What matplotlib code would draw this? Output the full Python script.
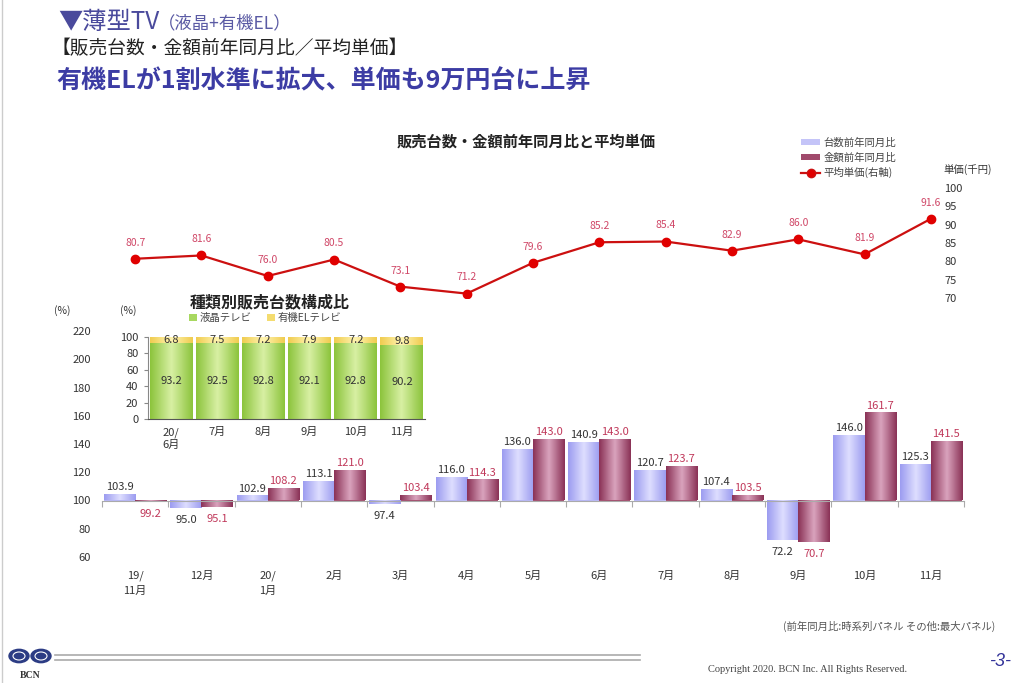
import numpy as np
import matplotlib
matplotlib.use("Agg")
import matplotlib.pyplot as plt
from matplotlib.colors import LinearSegmentedColormap
from matplotlib.patches import Circle, Patch
from matplotlib.lines import Line2D
import matplotlib.transforms as mtransforms

plt.rcParams['font.family'] = ['Noto Sans CJK JP', 'DejaVu Sans']

# --- data ---
months = ["19/\n11月", "12月", "20/\n1月", "2月", "3月", "4月", "5月",
          "6月", "7月", "8月", "9月", "10月", "11月"]
units_yoy = [103.9, 95.0, 102.9, 113.1, 97.4, 116.0, 136.0, 140.9, 120.7, 107.4, 72.2, 146.0, 125.3]
amount_yoy = [99.2, 95.1, 108.2, 121.0, 103.4, 114.3, 143.0, 143.0, 123.7, 103.5, 70.7, 161.7, 141.5]
avg_price = [80.7, 81.6, 76.0, 80.5, 73.1, 71.2, 79.6, 85.2, 85.4, 82.9, 86.0, 81.9, 91.6]

inset_months = ["20/\n6月", "7月", "8月", "9月", "10月", "11月"]
lcd_share = [93.2, 92.5, 92.8, 92.1, 92.8, 90.2]
oled_share = [6.8, 7.5, 7.2, 7.9, 7.2, 9.8]

W, H = 1024, 683
fig = plt.figure(figsize=(W / 100, H / 100), dpi=100)


def fx(px):
    return px / W


def fy(py):
    return 1 - py / H


def gradient(ax, bars, edge, mid):
    cmap = LinearSegmentedColormap.from_list("g", [edge, mid, edge])
    grad = np.linspace(0, 1, 64).reshape(1, -1)
    for r in bars:
        x0, w, y0, h = r.get_x(), r.get_width(), r.get_y(), r.get_height()
        ax.imshow(grad, cmap=cmap, extent=(x0, x0 + w, y0, y0 + h),
                  aspect='auto', zorder=r.get_zorder() + 0.1, interpolation='bilinear')


# --- main bar axes ---
x = np.arange(len(months))
ax = fig.add_axes([fx(102), fy(557), fx(964 - 102), (557 - 331) / H])
bw = 0.47
b1 = ax.bar(x - bw / 2, np.array(units_yoy) - 100, bw, bottom=100, color='#b8b8f8', zorder=2)
b2 = ax.bar(x + bw / 2, np.array(amount_yoy) - 100, bw, bottom=100, color='#a4506f', zorder=2)
gradient(ax, b1, '#9c9cf0', '#dedeff')
gradient(ax, b2, '#8a3256', '#daa4be')
ax.set_xlim(-0.5, len(months) - 0.5)
ax.set_ylim(60, 220)
ax.set_yticks(range(60, 221, 20))
ax.tick_params(axis='y', length=0, pad=8, labelsize=8, labelcolor='#333333')
for s in ['top', 'right', 'left']:
    ax.spines[s].set_visible(False)
ax.spines['bottom'].set_position(('data', 100))
ax.spines['bottom'].set_color('#aaaaaa')
ax.spines['bottom'].set_zorder(3)
ax.set_xticks(np.arange(-0.5, len(months), 1))
ax.set_xticklabels([])
ax.tick_params(axis='x', length=4, color='#aaaaaa')
ax.patch.set_alpha(0)

trans = mtransforms.blended_transform_factory(ax.transData, ax.transAxes)
for i, m in enumerate(months):
    ax.text(i, -0.06, m, transform=trans, ha='center', va='top', fontsize=8,
            color='#333333', linespacing=1.6)

for i in range(len(months)):
    for val, xx, col in [(units_yoy[i], i - bw / 2, '#333333'), (amount_yoy[i], i + bw / 2, '#c0385a')]:
        if val >= 100:
            ax.annotate(f"{val:.1f}", (xx, val), xytext=(0, 2), textcoords='offset points',
                        ha='center', va='bottom', fontsize=8, color=col, zorder=5)
        else:
            ax.annotate(f"{val:.1f}", (xx, val), xytext=(0, -5), textcoords='offset points',
                        ha='center', va='top', fontsize=8, color=col, zorder=5)

fig.text(fx(62), fy(311), "(%)", fontsize=7.5, color='#333333', ha='center', va='center')

# --- line axes (right axis) ---
axl = fig.add_axes([fx(102), fy(298), fx(964 - 102), (298 - 188) / H])
axl.plot(x, avg_price, color='#cc1010', lw=1.6, marker='o', markersize=6,
         markerfacecolor='#e00000', markeredgecolor='#e00000')
axl.set_xlim(-0.5, len(months) - 0.5)
axl.set_ylim(70, 100)
axl.set_yticks(range(70, 101, 5))
axl.yaxis.tick_right()
axl.tick_params(axis='y', length=0, pad=-14, labelsize=8, labelcolor='#333333')
axl.set_xticks([])
for s in axl.spines.values():
    s.set_visible(False)
axl.patch.set_alpha(0)
for i, v in enumerate(avg_price):
    axl.annotate(f"{v:.1f}", (i, v), xytext=(0, 8), textcoords='offset points',
                 ha='center', va='bottom', fontsize=7.5, color='#d04868')

fig.text(fx(968), fy(170), "単価(千円)", fontsize=7.5, color='#333333', ha='center', va='center')
fig.text(fx(526), fy(142), "販売台数・金額前年同月比と平均単価", fontsize=11, fontweight='bold',
         color='#222222', ha='center', va='center')

handles = [Patch(facecolor='#c4c4f8'), Patch(facecolor='#a04a6c'),
           Line2D([0], [0], color='#cc1010', lw=1.6, marker='o', markersize=6,
                  markerfacecolor='#e00000')]
fig.legend(handles, ["台数前年同月比", "金額前年同月比", "平均単価(右軸)"],
           loc='upper left', bbox_to_anchor=(fx(792), fy(128)), frameon=False,
           fontsize=7.5, handlelength=1.8, handleheight=0.6, labelspacing=0.45,
           handletextpad=0.3, labelcolor='#444444')

# --- inset: share by type ---
axi = fig.add_axes([fx(148), fy(419), fx(425 - 148), (419 - 337) / H])
xi = np.arange(len(inset_months))
g1 = axi.bar(xi, lcd_share, 0.93, color='#a8d860', zorder=2)
g2 = axi.bar(xi, oled_share, 0.93, bottom=lcd_share, color='#f8e080', zorder=2)
gradient(axi, g1, '#8cc43c', '#d8f0a4')
gradient(axi, g2, '#f0cc50', '#fff4b0')
axi.set_xlim(-0.5, len(inset_months) - 0.5)
axi.set_ylim(0, 100)
axi.set_yticks(range(0, 101, 20))
axi.set_xticks(xi)
axi.set_xticklabels(inset_months)
axi.tick_params(axis='y', length=3, labelsize=8, labelcolor='#333333', color='#888888', pad=4)
axi.tick_params(axis='x', length=0, labelsize=8, labelcolor='#333333', pad=6)
for s in ['top', 'right']:
    axi.spines[s].set_visible(False)
axi.spines['left'].set_color('#888888')
axi.spines['bottom'].set_color('#555555')
for i in xi:
    axi.text(i, lcd_share[i] / 2, f"{lcd_share[i]:.1f}", ha='center', va='center',
             fontsize=8, color='#333333', zorder=5)
    axi.text(i, lcd_share[i] + oled_share[i] / 2, f"{oled_share[i]:.1f}", ha='center',
             va='center', fontsize=8, color='#333333', zorder=5)

fig.text(fx(128), fy(311), "(%)", fontsize=7.5, color='#333333', ha='center', va='center')
fig.text(fx(270), fy(302), "種類別販売台数構成比", fontsize=11.5, fontweight='bold',
         color='#222222', ha='center', va='center')
fig.legend([Patch(facecolor='#a8d860'), Patch(facecolor='#f4dc70')], ["液晶テレビ", "有機ELテレビ"],
           loc='center left', bbox_to_anchor=(fx(180), fy(318)), frameon=False, ncol=2,
           fontsize=7.5, handlelength=0.7, handleheight=0.7, handletextpad=0.3,
           columnspacing=1.5, labelcolor='#444444')

# --- page header ---
fig.text(fx(58), fy(22), "▼薄型TV", fontsize=17.5, color='#4a4a9c', ha='left', va='center')
fig.text(fx(158), fy(23), "（液晶+有機EL）", fontsize=12.5, color='#5a5aa4', ha='left', va='center')
fig.text(fx(52), fy(49), "【販売台数・金額前年同月比／平均単価】", fontsize=13.5, color='#222222',
         ha='left', va='center')
fig.text(fx(56), fy(81), "有機ELが1割水準に拡大、単価も9万円台に上昇", fontsize=18,
         fontweight='bold', color='#3c3ca4', ha='left', va='center')

# --- footer ---
fig.text(fx(995), fy(626), "(前年同月比:時系列パネル その他:最大パネル)", fontsize=7.5,
         color='#555555', ha='right', va='center')
fig.text(fx(808), fy(669), "Copyright 2020. BCN Inc. All Rights Reserved.", fontsize=7.5,
         family='Liberation Serif', color='#444444', ha='center', va='center')
fig.text(fx(1000), fy(662), "-3-", fontsize=13, style='italic', color='#333399',
         ha='center', va='center', family='Liberation Sans')
fig.add_artist(Line2D([fx(55), fx(640)], [fy(655), fy(655)], color='#aaaaaa', lw=1.2))
fig.add_artist(Line2D([fx(55), fx(640)], [fy(660), fy(660)], color='#aaaaaa', lw=1.2))
fig.add_artist(Line2D([fx(2), fx(2)], [0, 1], color='#cccccc', lw=1))
for cx in (19, 41):
    fig.add_artist(Circle((fx(cx), fy(656)), 10 / W, transform=fig.transFigure,
                          facecolor='#2c3c84', edgecolor='#2c3c84'))
    fig.add_artist(Circle((fx(cx), fy(656)), 6 / W, transform=fig.transFigure,
                          facecolor='none', edgecolor='white', lw=0.8))
fig.text(fx(30), fy(676), "BCN", fontsize=7, family='Liberation Serif', color='#333333',
         ha='center', va='center', fontweight='bold')

fig.savefig("out.png", dpi=100)
